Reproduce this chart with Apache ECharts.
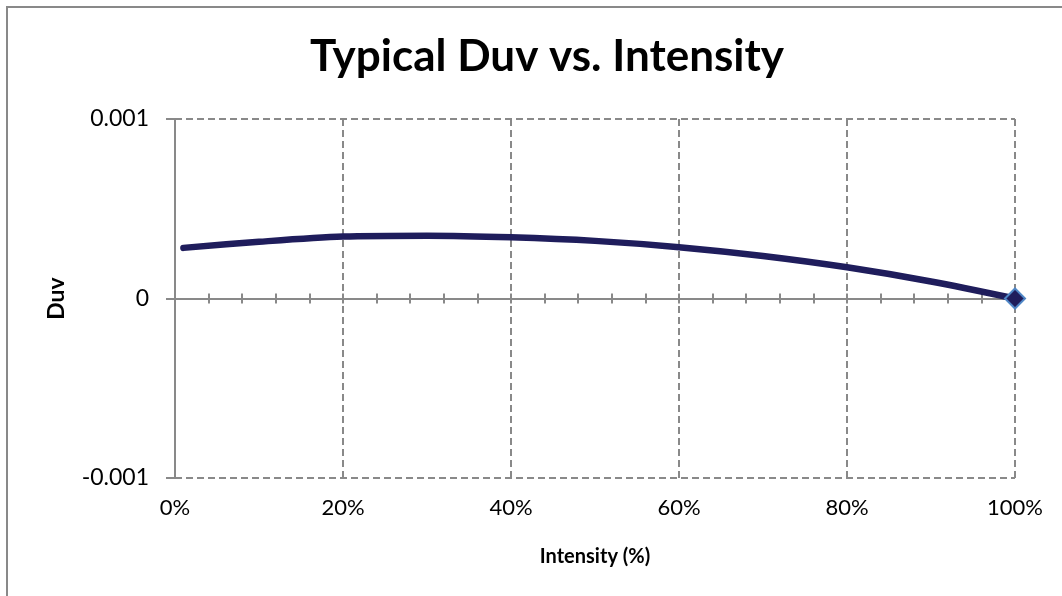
<!DOCTYPE html>
<html>
<head>
<meta charset="utf-8">
<style>
  html, body { margin: 0; padding: 0; background: #ffffff; }
  #chart { width: 1062px; height: 596px; }
</style>
<script src="https://cdn.jsdelivr.net/npm/echarts@6/dist/echarts.min.js"></script>
</head>
<body>
<div id="chart"></div>
<script>
// ---- data ----
const titleText = 'Typical Duv vs. Intensity';
const xAxisName = 'Intensity (%)';
const yAxisName = 'Duv';
const intensity = [1, 10, 20, 30, 40, 50, 60, 70, 80, 90, 100];
const duv = [0.000282, 0.000316, 0.000345, 0.000350, 0.000341, 0.000321, 0.000286, 0.000237, 0.000174, 0.000095, 0];
const xTicks = [0, 20, 40, 60, 80, 100];
const yTicks = [-0.001, 0, 0.001];

const FONT = 'Lato, "Open Sans", sans-serif';
const GRAY = '#898989';
const NAVY = '#1f1d5c';

const seriesData = intensity.map((x, i) => {
  const last = i === intensity.length - 1;
  return {
    value: [x, duv[i]],
    symbol: last ? 'diamond' : 'none',
    symbolSize: last ? 20 : 0,
    itemStyle: last ? { color: NAVY, borderColor: '#4f86c6', borderWidth: 2 } : undefined
  };
});

const chart = echarts.init(document.getElementById('chart'), null, { renderer: 'canvas' });

const zeroAxisBase = {
  type: 'value',
  min: xTicks[0],
  max: xTicks[xTicks.length - 1],
  interval: 4,
  position: 'bottom',
  axisLabel: { show: false },
  splitLine: { show: false }
};

chart.setOption({
  animation: false,
  backgroundColor: '#ffffff',
  title: {
    text: titleText,
    left: 542,
    textAlign: 'center',
    top: 30,
    textStyle: { fontFamily: FONT, fontWeight: 'bold', fontSize: 44, color: '#000000' }
  },
  graphic: [{
    type: 'rect',
    shape: { x: 7, y: 7, width: 1200, height: 800 },
    style: { fill: 'none', stroke: GRAY, lineWidth: 2 },
    silent: true,
    z: -1
  }],
  grid: { left: 175, right: 47, top: 119, bottom: 118, containLabel: false },
  xAxis: [
    {
      type: 'value',
      min: xTicks[0],
      max: xTicks[xTicks.length - 1],
      interval: 20,
      position: 'bottom',
      axisLine: { show: false, onZero: false },
      axisTick: { show: false },
      axisLabel: {
        formatter: v => v + '%',
        fontFamily: FONT, fontSize: 22, color: '#000000', margin: 19
      },
      splitLine: { show: true, lineStyle: { color: GRAY, width: 2, type: [7, 4] } },
      name: xAxisName,
      nameLocation: 'middle',
      nameGap: 69,
      nameTextStyle: { fontFamily: FONT, fontWeight: 'bold', fontSize: 20, color: '#000000' }
    },
    Object.assign({}, zeroAxisBase, {
      axisLine: { show: true, onZero: true, onZeroAxisIndex: 0, lineStyle: { color: GRAY, width: 2 } },
      axisTick: { show: true, inside: true, length: 5, lineStyle: { color: GRAY, width: 2 } }
    }),
    Object.assign({}, zeroAxisBase, {
      axisLine: { show: false, onZero: true, onZeroAxisIndex: 0 },
      axisTick: { show: true, inside: false, length: 5, lineStyle: { color: GRAY, width: 2 } }
    })
  ],
  yAxis: {
    type: 'value',
    min: yTicks[0],
    max: yTicks[yTicks.length - 1],
    interval: 0.001,
    axisLine: { show: true, onZero: false, lineStyle: { color: GRAY, width: 2 } },
    axisTick: { show: true, inside: false, length: 9, lineStyle: { color: GRAY, width: 2 } },
    axisLabel: {
      formatter: v => (Math.abs(v) < 1e-12 ? '0' : String(Math.round(v * 1000) / 1000)),
      fontFamily: FONT, fontSize: 23, color: '#000000', margin: 26
    },
    splitLine: { show: true, lineStyle: { color: GRAY, width: 2, type: [7, 4] } },
    name: yAxisName,
    nameLocation: 'middle',
    nameGap: 107,
    nameRotate: 90,
    nameTextStyle: { fontFamily: FONT, fontWeight: 'bold', fontSize: 23, color: '#000000' }
  },
  series: [{
    type: 'line',
    xAxisIndex: 0,
    yAxisIndex: 0,
    smooth: 0.3,
    showSymbol: true,
    data: seriesData,
    lineStyle: { color: NAVY, width: 6.5, cap: 'round' },
    itemStyle: { color: NAVY },
    z: 5
  }]
});
</script>
</body>
</html>
